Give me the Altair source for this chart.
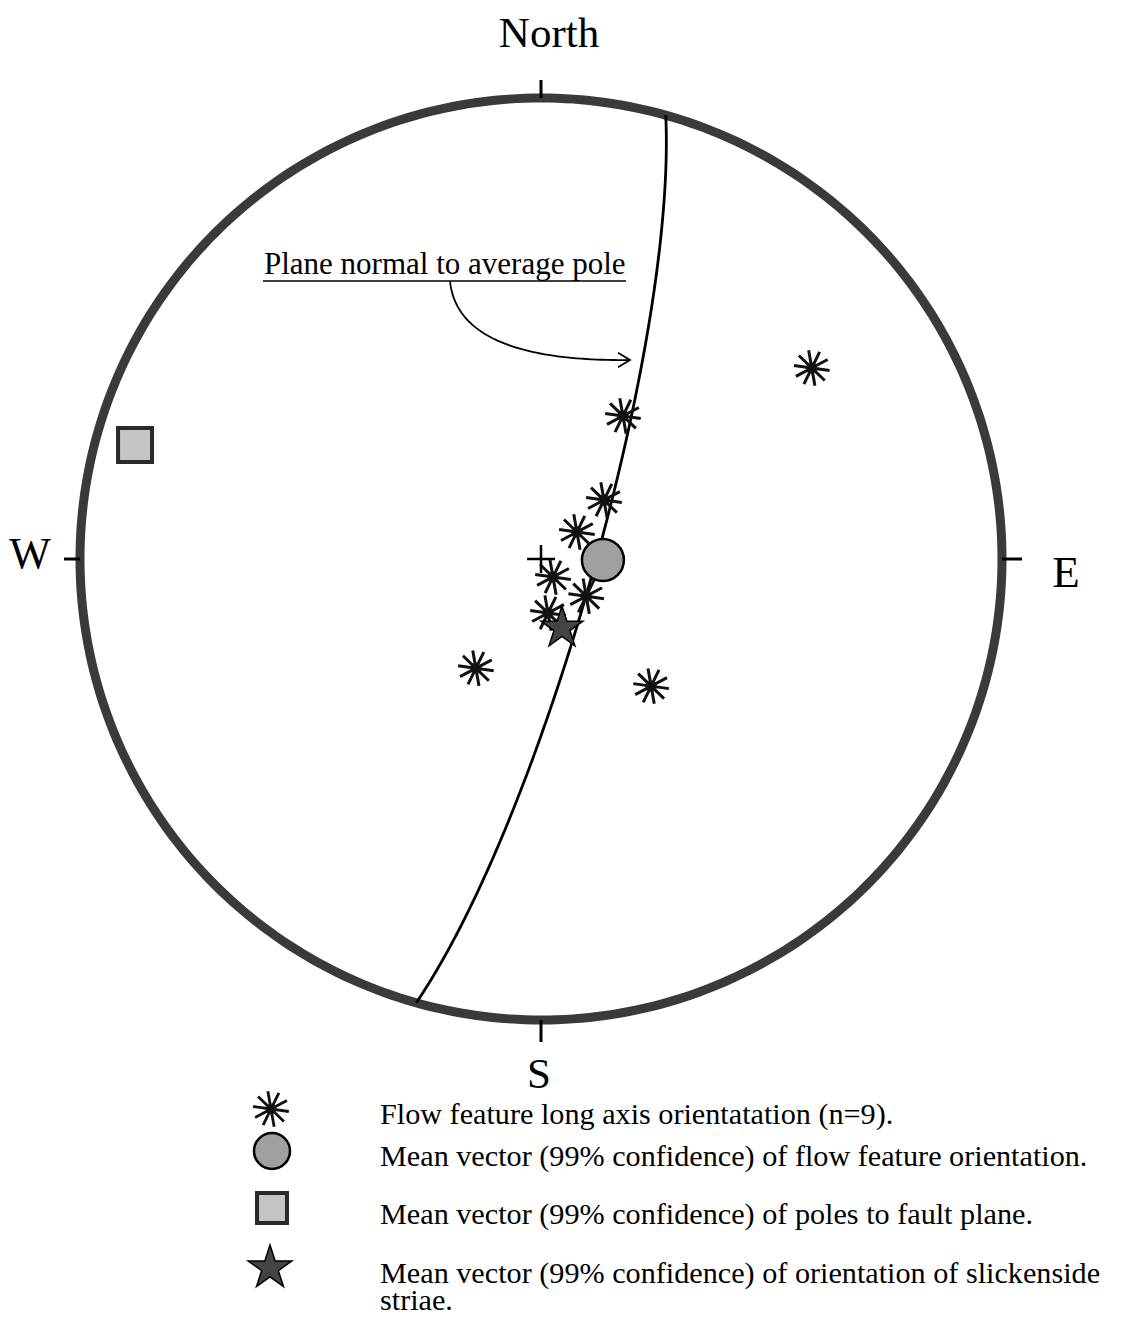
import altair as alt
import numpy as np
import pandas as pd

# ---------------- data (trend, plunge in degrees; lower-hemisphere equal-area net)
flow_trend = [54.8, 29.8, 46.9, 53.1, 146.3, 129.4, 172.6, 210.8, 139.1]
flow_plunge = [28.9, 60.7, 74.8, 82.1, 86.2, 79.7, 80.4, 67.5, 60.1]
flow_mean = [90.9, 79.1]          # mean vector of flow features
fault_pole_mean = [285.7, 9.4]    # mean pole to fault plane
striae_mean = [163.1, 77.3]       # mean slickenside striae

legend_labels = [
    "Flow feature long axis orientatation (n=9).",
    "Mean vector (99% confidence) of flow feature orientation.",
    "Mean vector (99% confidence) of poles to fault plane.",
    ["Mean vector (99% confidence) of orientation of slickenside", "striae."],
]
annotation_text = "Plane normal to average pole"

FONT = "Liberation Serif"
W, H = 1106, 1308
CX, CY, R = 541, 559, 461  # page pixel centre and radius of the net
XDOM = [(8 - CX) / R, (8 + W - CX) / R]
YDOM = [(CY - 8 - H) / R, (CY - 8) / R]


def project(trend, plunge):
    t = np.radians(np.asarray(trend, float))
    p = np.radians(np.asarray(plunge, float))
    r = np.sqrt(2) * np.sin((np.pi / 2 - p) / 2)
    return r * np.sin(t), r * np.cos(t)


def px2net(px, py):
    return (np.asarray(px, float) - CX) / R, (CY - np.asarray(py, float)) / R


xs = alt.Scale(domain=XDOM, nice=False, zero=False)
ys = alt.Scale(domain=YDOM, nice=False, zero=False)


def X(f):
    return alt.X(f, type="quantitative", scale=xs, axis=None)


def Y(f):
    return alt.Y(f, type="quantitative", scale=ys, axis=None)


# primitive circle
a = np.linspace(0, 2 * np.pi, 361)
prim = pd.DataFrame({"x": np.sin(a), "y": np.cos(a), "o": np.arange(361)})
prim_layer = alt.Chart(prim).mark_line(color="#3a3a3a", strokeWidth=9).encode(
    x=X("x"), y=Y("y"), order="o:Q")

# great circle normal to the mean fault pole
pt, pp = np.radians(fault_pole_mean)
n = np.array([np.cos(pp) * np.sin(pt), np.cos(pp) * np.cos(pt), np.sin(pp)])
u1 = np.array([np.cos(pt), -np.sin(pt), 0.0])
u2 = np.cross(n, u1)
if u2[2] < 0:
    u2 = -u2
t = np.linspace(0, np.pi, 241)
v = np.outer(np.cos(t), u1) + np.outer(np.sin(t), u2)
gc_pl = np.degrees(np.arcsin(np.clip(v[:, 2], -1, 1)))
gc_tr = np.degrees(np.arctan2(v[:, 0], v[:, 1]))
gx, gy = project(gc_tr, gc_pl)
gc = pd.DataFrame({"x": gx, "y": gy, "o": np.arange(len(gx))})
gc_layer = alt.Chart(gc).mark_line(color="black", strokeWidth=2.8).encode(
    x=X("x"), y=Y("y"), order="o:Q")

# cardinal ticks
ticks = pd.DataFrame({
    "x": [0, 0, -1, 1], "y": [1, -1, 0, 0],
    "x2": [0, 0, -1 - 16 / R, 1 + 20 / R], "y2": [1 + 18 / R, -1 - 22 / R, 0, 0]})
tick_layer = alt.Chart(ticks).mark_rule(color="black", strokeWidth=3).encode(
    x=X("x"), y=Y("y"), x2="x2:Q", y2="y2:Q")

# shapes
ast_path = "".join(
    "M{:.3f},{:.3f}L{:.3f},{:.3f}".format(np.cos(k), np.sin(k), -np.cos(k), -np.sin(k))
    for k in np.radians([0, 36, 72, 108, 144]) + np.radians(8))
plus_path = "M-1,0L1,0M0,-1L0,1"
star_path = ("M0,-1L0.225,-0.309L0.951,-0.309L0.363,0.118L0.588,0.809L0,0.382"
             "L-0.588,0.809L-0.363,0.118L-0.951,-0.309L-0.225,-0.309Z")
arrow_path = "M-1,-0.6L0,0L-1,0.6"

fx, fy = project(flow_trend, flow_plunge)
flow = pd.DataFrame({"x": fx, "y": fy})
flow_dot = alt.Chart(flow).mark_point(shape="circle", filled=True, color="#999", size=150, opacity=1).encode(
    x=X("x"), y=Y("y"))
flow_layer = alt.Chart(flow).mark_point(shape=ast_path, filled=False, stroke="#111", strokeWidth=3,
                                        size=36 * 36, opacity=1).encode(x=X("x"), y=Y("y"))

centre = pd.DataFrame({"x": [0.0], "y": [0.0]})
plus_layer = alt.Chart(centre).mark_point(shape=plus_path, filled=False, stroke="black", strokeWidth=2.5,
                                          size=28 * 28, opacity=1).encode(x=X("x"), y=Y("y"))

mx, my = project([flow_mean[0]], [flow_mean[1]])
mean_layer = alt.Chart(pd.DataFrame({"x": mx, "y": my})).mark_point(
    shape="circle", filled=True, fill="#a0a0a0", stroke="black", strokeWidth=2.5, size=42 * 42, opacity=1
).encode(x=X("x"), y=Y("y"))

sx, sy = project([fault_pole_mean[0]], [fault_pole_mean[1]])
sq_layer = alt.Chart(pd.DataFrame({"x": sx, "y": sy})).mark_point(
    shape="square", filled=True, fill="#c4c4c4", stroke="#2a2a2a", strokeWidth=4, size=34 * 34, opacity=1
).encode(x=X("x"), y=Y("y"))

stx, sty = project([striae_mean[0]], [striae_mean[1]])
star_layer = alt.Chart(pd.DataFrame({"x": stx, "y": sty})).mark_point(
    shape=star_path, filled=True, fill="#444", stroke="black", strokeWidth=1.5, size=44 * 44, opacity=1
).encode(x=X("x"), y=Y("y"))

# annotation arrow (quadratic curve)
p0, p1, p2 = np.array([450, 281]), np.array([458, 362]), np.array([630, 360])
tt = np.linspace(0, 1, 60)[:, None]
curve = (1 - tt) ** 2 * p0 + 2 * (1 - tt) * tt * p1 + tt ** 2 * p2
cx_, cy_ = px2net(curve[:, 0], curve[:, 1])
arc_layer = alt.Chart(pd.DataFrame({"x": cx_, "y": cy_, "o": np.arange(60)})).mark_line(
    color="black", strokeWidth=1.8).encode(x=X("x"), y=Y("y"), order="o:Q")
ax_, ay_ = px2net([p2[0]], [p2[1]])
head_layer = alt.Chart(pd.DataFrame({"x": ax_, "y": ay_})).mark_point(
    shape=arrow_path, filled=False, stroke="black", strokeWidth=1.8, size=24 * 24, opacity=1, angle=0
).encode(x=X("x"), y=Y("y"))


def label(text, px, py, size, align="center", lh=None):
    kw = {} if lh is None else {"lineHeight": lh}
    return alt.Chart(pd.DataFrame({"t": [text]})).mark_text(
        font=FONT, fontSize=size, align=align, baseline="alphabetic", color="black", **kw
    ).encode(x=alt.value(px - 8), y=alt.value(py - 8), text="t")


def sym(px, py, **kw):
    return alt.Chart(pd.DataFrame({"t": [0]})).mark_point(opacity=1, **kw).encode(
        x=alt.value(px - 8), y=alt.value(py - 8))


underline = alt.Chart(pd.DataFrame({"t": [0]})).mark_rule(color="black", strokeWidth=1.5).encode(
    x=alt.value(263 - 8), x2=alt.value(626 - 8), y=alt.value(281 - 8))

LF = 30.2
texts = [
    label("North", 549, 47, 43),
    label("W", 30, 568, 44),
    label("E", 1066, 587, 45),
    label("S", 539, 1088, 43),
    label(annotation_text, 264, 274, 31, align="left"),
    label(legend_labels[0], 380, 1124, LF, align="left"),
    label(legend_labels[1], 380, 1166, LF, align="left"),
    label(legend_labels[2], 380, 1224, LF, align="left"),
    label(legend_labels[3], 380, 1283, LF, align="left", lh=27),
]

legend_syms = [
    sym(271, 1109, shape="circle", filled=True, color="#999", size=130),
    sym(271, 1109, shape=ast_path, filled=False, stroke="#111", strokeWidth=2.8, size=36 * 36),
    sym(272, 1151, shape="circle", filled=True, fill="#a0a0a0", stroke="black", strokeWidth=2.5, size=36 * 36),
    sym(272, 1208, shape="square", filled=True, fill="#c4c4c4", stroke="#2a2a2a", strokeWidth=4, size=30 * 30),
    sym(270, 1268, shape=star_path, filled=True, fill="#444", stroke="black", strokeWidth=1.5, size=46 * 46),
]

chart = alt.layer(
    prim_layer, tick_layer, gc_layer, arc_layer, head_layer, underline,
    plus_layer, mean_layer, flow_dot, flow_layer, star_layer, sq_layer,
    *texts, *legend_syms
).properties(width=W, height=H, padding=0, autosize=alt.AutoSizeParams(type="none")
).configure(background="white").configure_view(stroke=None)

chart.save("out.html", embed_options={"renderer": "svg", "actions": False})
